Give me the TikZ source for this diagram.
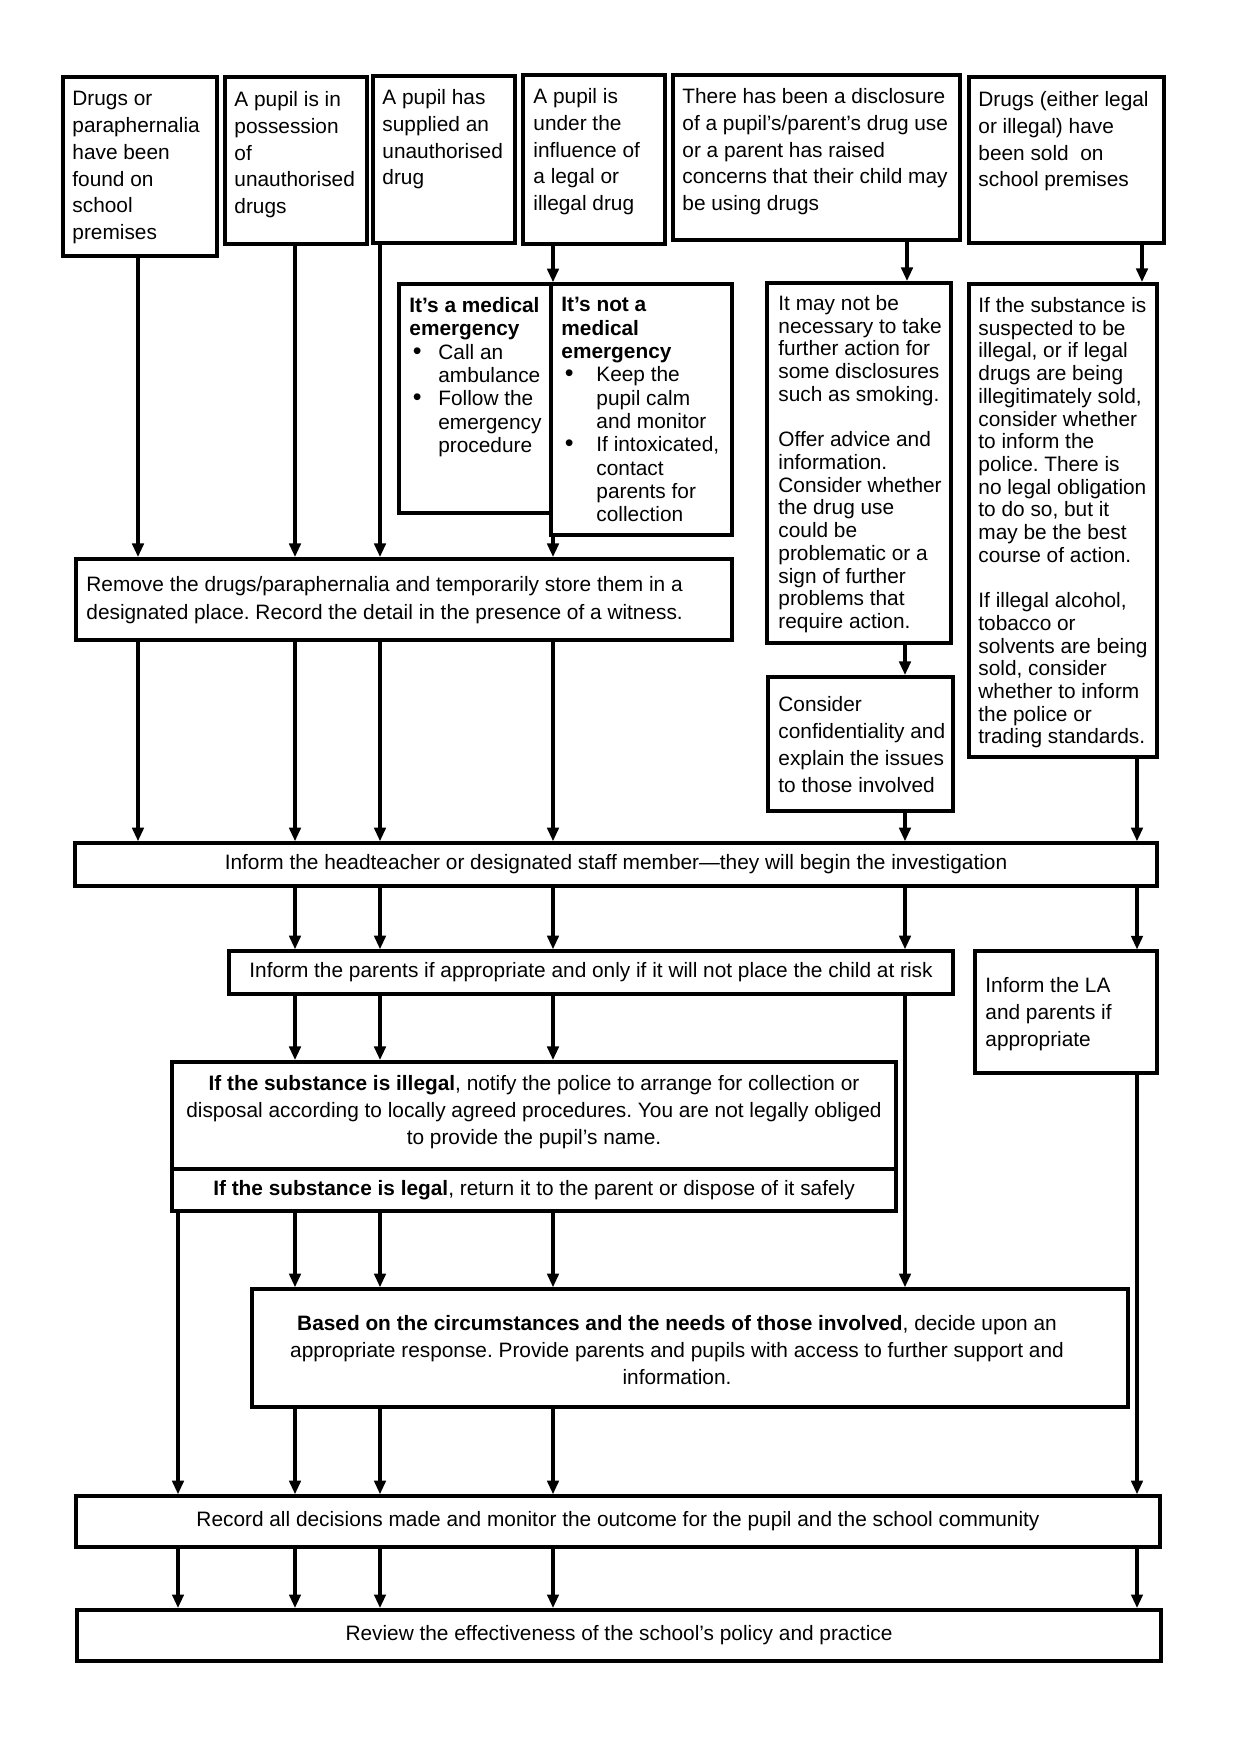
\documentclass[tikz,border=0pt]{standalone}
\usepackage{fontspec}
\setmainfont{Liberation Sans}
\usetikzlibrary{fit,arrows.meta}
\newcommand{\bulletbox}[1]{\makebox[#1][l]{\hspace{1.6pt}\large•}}
\frenchspacing
\begin{document}
\begin{tikzpicture}[x=0.48pt,y=-0.48pt,
  box/.style={draw, line width=1.7pt, inner sep=0pt, rectangle},
  tbox/.style={box, line width=2.1pt},
  txt/.style={anchor=north west, inner sep=0pt, align=left},
  ctxt/.style={inner sep=0pt, align=center},
  arr/.style={line width=1.5pt, -{Triangle[length=6.5pt,width=5.5pt]}}
]
\useasboundingbox (0,0) rectangle (1240,1754);

% ---------- boxes ----------
\node[tbox, fit={(63,77) (217,256)}] (b1) {};
\node[tbox, fit={(225,77) (367,244)}] (b2) {};
\node[tbox, fit={(373,76) (515,243)}] (b3) {};
\node[tbox, fit={(523,75) (665,244)}] (b4) {};
\node[tbox, fit={(673,75) (960,240)}] (b5) {};
\node[tbox, fit={(969,77) (1164,243)}] (b6) {};
\node[box, fit={(399,284) (551,513)}] (med) {};
\node[box, fit={(551,284) (732,535)}] (notmed) {};
\node[box, line width=1.9pt, fit={(767,283) (951,643)}] (maynot) {};
\node[box, line width=1.9pt, fit={(768,677) (953,811)}] (consider) {};
\node[box, line width=1.9pt, fit={(969,284) (1157,757)}] (subst) {};
\node[box, line width=1.9pt, fit={(76,559) (732,640)}] (remove) {};
\node[box, fit={(75,843) (1157,886)}] (head) {};
\node[box, fit={(229,951) (953,994)}] (parents) {};
\node[box, line width=1.5pt, fit={(975,951) (1157,1073)}] (la) {};
\node[box, line width=1.9pt, fit={(172,1062) (896,1169)}] (illegal) {};
\node[box, line width=1.9pt, fit={(172,1169) (896,1211)}] (legal) {};
\node[box, fit={(252,1289) (1128,1407)}] (based) {};
\node[box, fit={(76,1496) (1160,1547)}] (record) {};
\node[box, line width=1.9pt, fit={(77,1610) (1161,1661)}] (review) {};

% ---------- texts ----------
\begin{scope}[every node/.append style={font=\fontsize{10}{12.85}\selectfont}]
\node[txt] (t1) at (72,91) {Drugs or\\paraphernalia\\have been\\found on\\school\\premises};
\node[txt] (t2) at (234,91) {A pupil is in\\possession\\of\\unauthorised\\drugs};
\node[txt] (t3) at (382,89) {A pupil has\\supplied an\\unauthorised\\drug};
\node[txt] (t4) at (533,88) {A pupil is\\under the\\influence of\\a legal or\\illegal drug};
\node[txt] (t5) at (682,88) {There has been a disclosure\\of a pupil’s/parent’s drug use\\or a parent has raised\\concerns that their child may\\be using drugs};
\node[txt] (t6) at (978,91) {Drugs (either legal\\or illegal) have\\been sold~ on\\school premises};
\end{scope}

\begin{scope}[every node/.append style={font=\fontsize{10}{11.2}\selectfont}]
\node[txt] (tmed) at (409,297) {\textbf{It’s a medical}\\\textbf{emergency}\\
\bulletbox{13.9pt}Call an\\\hspace*{13.9pt}ambulance\\
\bulletbox{13.9pt}Follow the\\\hspace*{13.9pt}emergency\\\hspace*{13.9pt}procedure};
\node[txt] (tnot) at (561,297) {\textbf{It’s not a}\\\textbf{medical}\\\textbf{emergency}\\
\bulletbox{16.8pt}Keep the\\\hspace*{16.8pt}pupil calm\\\hspace*{16.8pt}and monitor\\
\bulletbox{16.8pt}If intoxicated,\\\hspace*{16.8pt}contact\\\hspace*{16.8pt}parents for\\\hspace*{16.8pt}collection};
\end{scope}

\begin{scope}[every node/.append style={font=\fontsize{10}{10.9}\selectfont}]
\node[txt] (tmay) at (778,295) {It may not be\\necessary to take\\further action for\\some disclosures\\such as smoking.\\[10.9pt]
Offer advice and\\information.\\Consider whether\\the drug use\\could be\\problematic or a\\sign of further\\problems that\\require action.};
\node[txt] (tsub) at (978,297) {If the substance is\\suspected to be\\illegal, or if legal\\drugs are being\\illegitimately sold,\\consider whether\\to inform the\\police. There is\\no legal obligation\\to do so, but it\\may be the best\\course of action.\\[10.9pt]
If illegal alcohol,\\tobacco or\\solvents are being\\sold, consider\\whether to inform\\the police or\\trading standards.};
\end{scope}

\begin{scope}[every node/.append style={font=\fontsize{10}{13}\selectfont}]
\node[txt] (tcons) at (778,696) {Consider\\confidentiality and\\explain the issues\\to those involved};
\node[txt, font=\fontsize{10}{13.4}\selectfont] (tremove) at (86,576) {Remove the drugs/paraphernalia and temporarily store them in a\\designated place. Record the detail in the presence of a witness.};
\node[txt] (tla) at (985,977) {Inform the LA\\and parents if\\appropriate};
\node[ctxt, anchor=north] (tillegal) at (534,1075) {\textbf{If the substance is illegal}, notify the police to arrange for collection or\\disposal according to locally agreed procedures. You are not legally obliged\\to provide the pupil’s name.};
\node[ctxt] (tlegal) at (534,1190) {\textbf{If the substance is legal}, return it to the parent or dispose of it safely};
\node[ctxt, anchor=north] (tbased) at (677,1315) {\textbf{Based on the circumstances and the needs of those involved}, decide upon an\\appropriate response. Provide parents and pupils with access to further support and\\information.};
\node[ctxt] (thead) at (616,864) {Inform the headteacher or designated staff member—they will begin the investigation};
\node[ctxt] (tparents) at (591,972) {Inform the parents if appropriate and only if it will not place the child at risk};
\node[ctxt] (trecord) at (618,1521) {Record all decisions made and monitor the outcome for the pupil and the school community};
\node[ctxt] (treview) at (619,1635) {Review the effectiveness of the school’s policy and practice};
\end{scope}

% ---------- column positions ----------
\coordinate (cA) at (138,0);
\coordinate (cB) at (295,0);
\coordinate (cC) at (380,0);
\coordinate (cD) at (553,0);
\coordinate (cE1) at (907,0);
\coordinate (cE) at (905,0);
\coordinate (cF1) at (1142,0);
\coordinate (cF) at (1137,0);
\coordinate (cG) at (178,0);

% ---------- connectors ----------
% column A
\draw[arr] (b1.south -| cA) -- (remove.north -| cA);
\draw[arr] (remove.south -| cA) -- (head.north -| cA);
% columns B, C
\foreach \c/\bx in {cB/b2, cC/b3}{
  \draw[arr] (\bx.south -| \c) -- (remove.north -| \c);
  \draw[arr] (remove.south -| \c) -- (head.north -| \c);
  \draw[arr] (head.south -| \c) -- (parents.north -| \c);
  \draw[arr] (parents.south -| \c) -- (illegal.north -| \c);
  \draw[arr] (legal.south -| \c) -- (based.north -| \c);
  \draw[arr] (based.south -| \c) -- (record.north -| \c);
  \draw[arr] (record.south -| \c) -- (review.north -| \c);
}
% column D
\draw[arr] (b4.south -| cD) -- (med.north -| cD);
\draw[arr] (notmed.south -| cD) -- (remove.north -| cD);
\draw[arr] (remove.south -| cD) -- (head.north -| cD);
\draw[arr] (head.south -| cD) -- (parents.north -| cD);
\draw[arr] (parents.south -| cD) -- (illegal.north -| cD);
\draw[arr] (legal.south -| cD) -- (based.north -| cD);
\draw[arr] (based.south -| cD) -- (record.north -| cD);
\draw[arr] (record.south -| cD) -- (review.north -| cD);
% column E
\draw[arr] (b5.south -| cE1) -- (maynot.north -| cE1);
\draw[arr] (maynot.south -| cE) -- (consider.north -| cE);
\draw[arr] (consider.south -| cE) -- (head.north -| cE);
\draw[arr] (head.south -| cE) -- (parents.north -| cE);
\draw[arr] (parents.south -| cE) -- (based.north -| cE);
% column F
\draw[arr] (b6.south -| cF1) -- (subst.north -| cF1);
\draw[arr] (subst.south -| cF) -- (head.north -| cF);
\draw[arr] (head.south -| cF) -- (la.north -| cF);
\draw[arr] (la.south -| cF) -- (record.north -| cF);
\draw[arr] (record.south -| cF) -- (review.north -| cF);
% column G
\draw[arr] (legal.south -| cG) -- (record.north -| cG);
\draw[arr] (record.south -| cG) -- (review.north -| cG);
\end{tikzpicture}
\end{document}
